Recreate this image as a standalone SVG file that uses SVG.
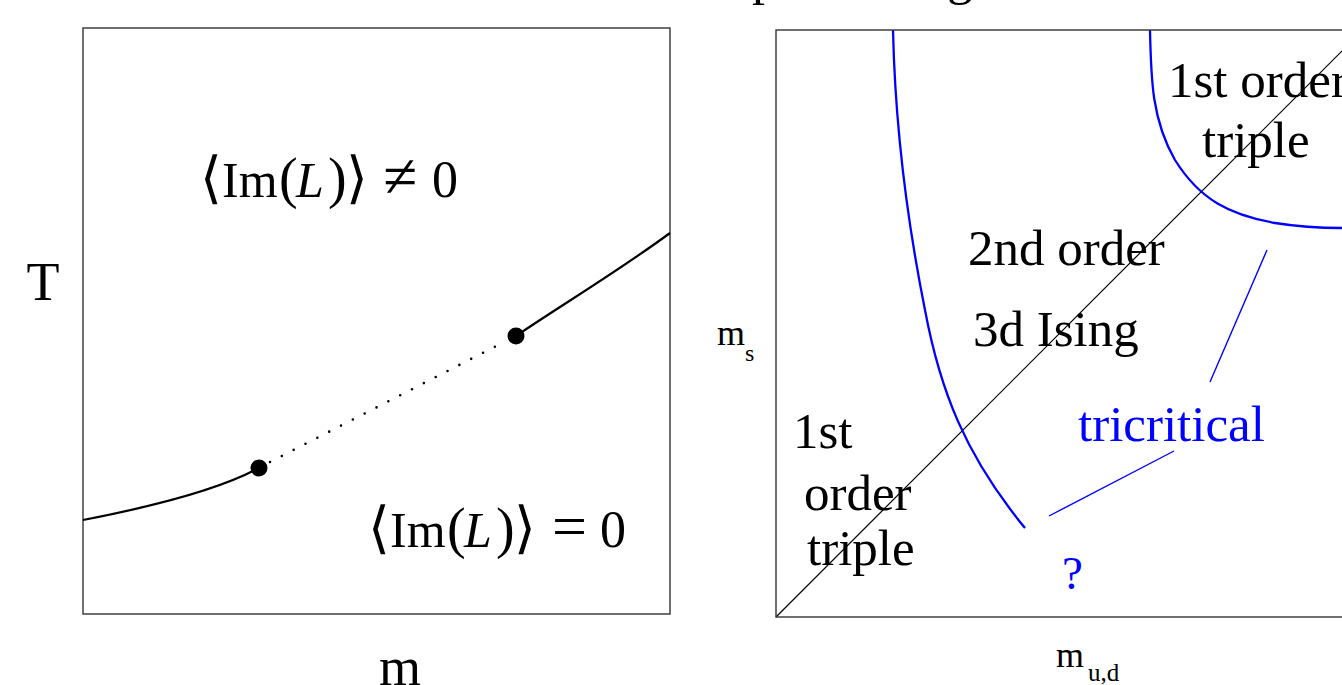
<svg xmlns="http://www.w3.org/2000/svg" width="1342" height="685" viewBox="0 0 1342 685">
<style>
.frame{fill:none;stroke:#333;stroke-width:1.4}
.t{font-family:"Liberation Serif","DejaVu Serif",serif;fill:#000}
.b{fill:#0000ff}
.bl{fill:none;stroke:#0000ff;stroke-width:2.3}
.bt{fill:none;stroke:#0000ff;stroke-width:1.4}
.k{fill:none;stroke:#000;stroke-width:2.2}
.br{font-size:56px}
.op{font-size:62px}
</style>
<rect width="1342" height="685" fill="#fff"/>
<g id="left-panel">
<rect class="frame" x="83" y="28" width="587" height="586"/>
<text class="t" x="43" y="300" font-size="54" text-anchor="middle">T</text>
<text class="t" x="400" y="685" font-size="54" text-anchor="middle">m</text>
</g>
<g id="label-nonzero" class="t" font-size="50">
<text y="197"><tspan x="200" class="br">⟨</tspan><tspan x="222">Im</tspan><tspan x="279" class="br">(</tspan><tspan x="296" font-style="italic">L</tspan><tspan x="328" class="br">)</tspan><tspan x="346" class="br">⟩</tspan><tspan x="383" class="op">≠</tspan><tspan x="432" font-size="52">0</tspan></text>
</g>
<g id="label-zero" class="t" font-size="50">
<text y="547"><tspan x="368" class="br">⟨</tspan><tspan x="390">Im</tspan><tspan x="447" class="br">(</tspan><tspan x="464" font-style="italic">L</tspan><tspan x="496" class="br">)</tspan><tspan x="514" class="br">⟩</tspan><tspan x="552" class="op">=</tspan><tspan x="600" font-size="52">0</tspan></text>
</g>
<g id="connectors">
<path class="k" d="M83,520 C140,509 215,492 259,468"/>
<path d="M270,462 L506,341" fill="none" stroke="#000" stroke-width="2.6" stroke-linecap="round" stroke-dasharray="0 13.3"/>
<path class="k" d="M516,336 C560,306 620,270 670,233"/>
<line x1="776" y1="617" x2="1363" y2="30" stroke="#000" stroke-width="1.2"/>
<path class="bl" d="M893,30 C895,120 905,210 925,310 C940,390 965,455 1025,528"/>
<path class="bl" d="M1150,30 C1151,80 1152,120 1175,160 C1200,200 1230,215 1275,223 C1300,227 1320,228 1342,228"/>
<line class="bt" x1="1267" y1="250" x2="1210" y2="382"/>
<line class="bt" x1="1049" y1="516" x2="1174" y2="451"/>
</g>
<g id="dot-left"><circle cx="259" cy="468" r="8.5" fill="#000"/></g>
<g id="dot-right"><circle cx="516" cy="336" r="8.5" fill="#000"/></g>
<g id="right-panel">
<rect class="frame" x="776" y="30" width="587" height="587"/>
<text class="t" x="752" y="-6" font-size="52">phase diagram</text>
<text class="t" x="717" y="345" font-size="36">m</text>
<text class="t" x="745" y="361" font-size="24">s</text>
<text class="t" x="1056" y="667" font-size="36">m</text>
<text class="t" x="1088" y="681" font-size="25">u,d</text>
</g>
<g id="region-2nd-order" class="t" font-size="51">
<text x="968" y="265">2nd order</text>
<text x="973" y="346">3d Ising</text>
</g>
<g id="region-1st-upper" class="t" font-size="51">
<text x="1168" y="97">1st order</text>
<text x="1202" y="157">triple</text>
</g>
<g id="region-1st-lower" class="t" font-size="51">
<text x="793" y="448">1st</text>
<text x="804" y="510">order</text>
<text x="807" y="565">triple</text>
</g>
<g id="tricritical" class="t b" font-size="51">
<text x="1078" y="441" class="b">tricritical</text>
<text x="1062" y="589" font-size="47" class="b">?</text>
</g>
</svg>
